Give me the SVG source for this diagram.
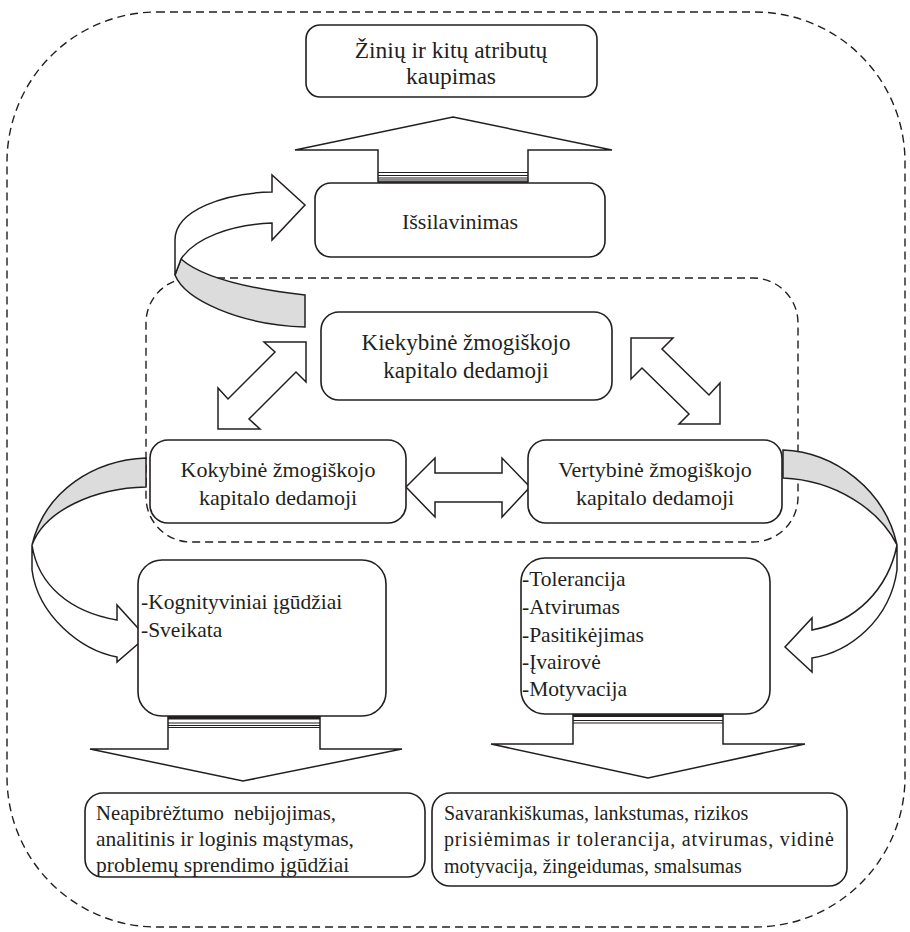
<svg xmlns="http://www.w3.org/2000/svg" width="910" height="932" viewBox="0 0 910 932">
<style>
.box{fill:#fff;stroke:#231f20;stroke-width:1.6}
.arr{fill:#fff;stroke:#231f20;stroke-width:1.5;stroke-linejoin:miter}
.gray{fill:#dcdcdc;stroke:#231f20;stroke-width:1.5}
.dash{fill:none;stroke:#231f20;stroke-width:1.4;stroke-dasharray:8 5}
.stripe{stroke:#231f20;stroke-width:1.2}
text{font-family:"Liberation Serif","Times New Roman",serif;fill:#231f20}
.t22{font-size:22px}
.t21{font-size:21.5px}
.t20{font-size:20px}
.c{text-anchor:middle}
</style>
<rect class="dash" x="7" y="12" width="898" height="915" rx="150"/>
<rect class="dash" x="146" y="278" width="652" height="264" rx="45"/>
<g id="connectors">
  <path class="arr" d="M453,117 L612,150 L528,150 L528,182 L378,182 L378,150 L295,150 Z"/>
  <g>
    <line class="stripe" x1="378" y1="172.5" x2="528" y2="172.5"/>
    <line class="stripe" x1="378" y1="175.5" x2="528" y2="175.5"/>
    <line class="stripe" x1="378" y1="178" x2="528" y2="178"/>
    <line class="stripe" x1="378" y1="180" x2="528" y2="180"/>
    <line class="stripe" x1="378" y1="182" x2="528" y2="182"/>
  </g>
  <path class="gray" d="M305,295 C260,290 205,280 181,259 L175,275 C185,300 240,325 305,327 Z"/>
  <path class="arr" d="M175,275 L175,240 C175,210 225,193 272,192 L272,175 L305,205 L272,240 L272,223 C230,225 195,238 181,259 Z"/>
  <path class="arr" d="M306,342 L306,382 L296,372 L249,419 L260,429 L218,429 L218,388 L228,399 L275,352 L264,342 Z"/>
  <path class="arr" d="M631,338 L673,338 L662,349 L709,395 L720,383 L720,424 L679,424 L689,414 L642,368 L631,379 Z"/>
  <path class="arr" d="M406,487 L435,458 L435,473 L502,473 L502,458 L530,487 L502,517 L502,502 L435,502 L435,517 Z"/>
  <path class="gray" d="M146,458 C95,460 45,490 32,545 C45,510 95,488 146,487 Z"/>
  <path class="arr" d="M32,545 L32,570 C38,615 80,650 117,657 L117,662 L146,637 L117,605 L117,620 C70,612 38,585 32,545 Z"/>
  <path class="gray" d="M783,450 C835,452 885,490 897,545 C880,510 835,480 783,478 Z"/>
  <path class="arr" d="M897,545 L897,570 C890,620 850,652 812,658 L812,672 L785,647 L812,618 L812,630 C855,622 888,590 897,545 Z"/>
  <path class="arr" d="M168,716 L320,716 L320,749 L402,749 L243,781 L90,749 L168,749 Z"/>
  <g>
    <rect x="168" y="716" width="152" height="3.5" fill="#231f20"/>
    <line class="stripe" x1="168" y1="723" x2="320" y2="723"/>
    <line class="stripe" x1="168" y1="725.5" x2="320" y2="725.5"/>
    <line class="stripe" x1="168" y1="727.5" x2="320" y2="727.5"/>
  </g>
  <path class="arr" d="M573,714 L723,714 L723,744 L805,744 L648,778 L491,744 L573,744 Z"/>
  <g>
    <rect x="573" y="713" width="150" height="4" fill="#231f20"/>
    <line class="stripe" x1="573" y1="720.5" x2="723" y2="720.5"/>
    <line class="stripe" x1="573" y1="723" x2="723" y2="723"/>
  </g>
</g>
<g id="node-kaupimas">
  <rect class="box" x="306" y="25" width="291" height="72" rx="14"/>
  <text class="c" x="451" y="58" style="font-size:23.5px">Žinių ir kitų atributų</text>
  <text class="c" x="451" y="84" style="font-size:23.5px">kaupimas</text>
</g>
<g id="node-issilavinimas">
  <rect class="box" x="315" y="183" width="290" height="74" rx="16"/>
  <text class="c t22" x="460" y="229">Išsilavinimas</text>
</g>
<g id="node-kiekybine">
  <rect class="box" x="321" y="312" width="291" height="88" rx="18"/>
  <text class="c" x="466" y="350" style="font-size:23px">Kiekybinė žmogiškojo</text>
  <text class="c" x="466" y="378" style="font-size:23px">kapitalo dedamoji</text>
</g>
<g id="node-kokybine">
  <rect class="box" x="150" y="440" width="256" height="83" rx="18"/>
  <text class="c t22" x="278" y="477">Kokybinė žmogiškojo</text>
  <text class="c t22" x="278" y="505">kapitalo dedamoji</text>
</g>
<g id="node-vertybine">
  <rect class="box" x="528" y="440" width="254" height="83" rx="18"/>
  <text class="c t22" x="655" y="477">Vertybinė žmogiškojo</text>
  <text class="c t22" x="655" y="505">kapitalo dedamoji</text>
</g>
<g id="node-kognityviniai">
  <rect class="box" x="138" y="560" width="248" height="156" rx="24"/>
  <text class="t21" x="141" y="609">-Kognityviniai įgūdžiai</text>
  <text class="t21" x="141" y="637">-Sveikata</text>
</g>
<g id="node-tolerancija">
  <rect class="box" x="521" y="558" width="249" height="156" rx="24"/>
  <text class="t21" x="522" y="586">-Tolerancija</text>
  <text class="t21" x="522" y="614">-Atvirumas</text>
  <text class="t21" x="522" y="642">-Pasitikėjimas</text>
  <text class="t21" x="522" y="669">-Įvairovė</text>
  <text class="t21" x="522" y="696">-Motyvacija</text>
</g>
<g id="node-neapibreztumo">
  <rect class="box" x="85" y="793" width="340" height="84" rx="18"/>
  <text class="t21" x="96" y="820" xml:space="preserve" textLength="240" lengthAdjust="spacingAndGlyphs">Neapibrėžtumo  nebijojimas,</text>
  <text class="t21" x="96" y="846">analitinis ir loginis mąstymas,</text>
  <text class="t21" x="96" y="872">problemų sprendimo įgūdžiai</text>
</g>
<g id="node-savarankiskumas">
  <rect class="box" x="432" y="793" width="415" height="93" rx="18"/>
  <text class="t20" x="444" y="820">Savarankiškumas, lankstumas, rizikos</text>
  <text class="t20" x="444" y="846" textLength="390" lengthAdjust="spacing">prisiėmimas ir tolerancija, atvirumas, vidinė</text>
  <text class="t20" x="444" y="873">motyvacija, žingeidumas, smalsumas</text>
</g>
</svg>
